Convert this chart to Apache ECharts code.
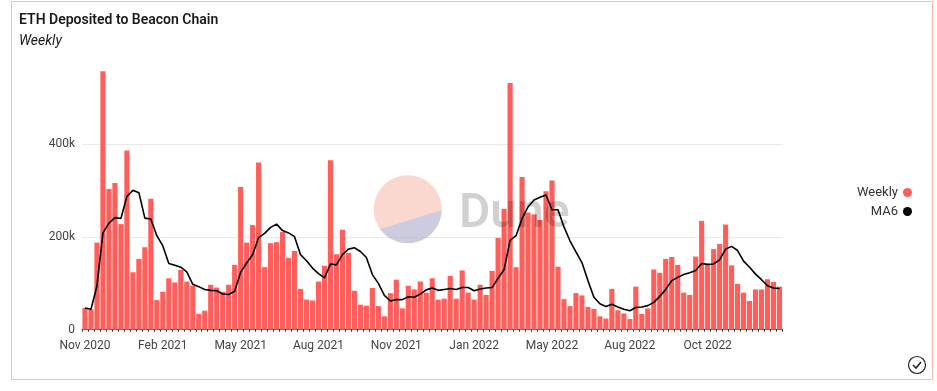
<!DOCTYPE html>
<html>
<head>
<meta charset="utf-8">
<title>ETH Deposited to Beacon Chain</title>
<script src="https://cdn.jsdelivr.net/npm/echarts@6/dist/echarts.min.js"></script>
<style>
  html, body { margin: 0; padding: 0; background: #fff; }
  #wrap { position: relative; width: 937px; height: 391px; }
  #chart { width: 937px; height: 391px; }
  #mark { position: absolute; left: 0; top: 0; pointer-events: none; }
</style>
</head>
<body>
<div id="wrap">
  <div id="chart"></div>
  <!-- watermark sits on top of the bars -->
  <svg id="mark" width="937" height="391">
    <path d="M380 229 A34 34 0 1 1 441.7 210 Z" fill="#f7bdaf" fill-opacity="0.6"/>
    <path d="M380 229 A34 34 0 0 0 441.7 210 Z" fill="#aca8c8" fill-opacity="0.6"/>
    <text x="459" y="227" font-family="Roboto, 'Noto Sans', sans-serif" font-size="48" font-weight="600" fill="#000" fill-opacity="0.18">Dune</text>
  </svg>
</div>
<script>
// weekly deposits (ETH)
const weekly = [
  47000, 44000, 188000, 558000, 304000, 317000, 228000, 387000, 124000, 153000,
  178000, 283000, 64000, 82000, 111000, 102000, 129000, 104000, 95000, 34000,
  41000, 97000, 91000, 82000, 97000, 140000, 308000, 188000, 226000, 361000,
  135000, 187000, 189000, 211000, 155000, 170000, 88000, 65000, 63000, 104000,
  138000, 366000, 163000, 216000, 166000, 84000, 54000, 52000, 90000, 51000,
  29000, 79000, 108000, 46000, 95000, 87000, 104000, 80000, 111000, 65000,
  67000, 116000, 67000, 128000, 80000, 65000, 97000, 75000, 127000, 198000,
  261000, 533000, 135000, 330000, 253000, 249000, 237000, 299000, 322000, 136000,
  66000, 51000, 79000, 74000, 49000, 45000, 29000, 24000, 88000, 42000,
  35000, 23000, 93000, 34000, 46000, 130000, 123000, 153000, 157000, 140000,
  80000, 75000, 158000, 235000, 142000, 174000, 185000, 227000, 139000, 99000,
  80000, 62000, 87000, 87000, 109000, 103000, 93000,
];
const ma6 = [
  47000, 44000, 95000, 209000, 230000, 242000, 240000, 288000, 301000, 296000,
  241000, 239000, 203000, 181000, 143000, 139000, 135000, 125000, 98000, 93000,
  87000, 85000, 84000, 77000, 76000, 83000, 124000, 144000, 162000, 199000,
  208000, 221000, 228000, 214000, 209000, 201000, 162000, 149000, 133000, 121000,
  112000, 142000, 140000, 162000, 174000, 177000, 169000, 156000, 119000, 100000,
  74000, 62000, 65000, 65000, 71000, 70000, 77000, 86000, 90000, 85000,
  87000, 89000, 87000, 91000, 91000, 84000, 88000, 90000, 91000, 111000,
  130000, 193000, 203000, 240000, 265000, 280000, 286000, 291000, 259000, 259000,
  222000, 192000, 168000, 145000, 106000, 70000, 56000, 50000, 55000, 49000,
  44000, 41000, 48000, 49000, 52000, 59000, 72000, 87000, 106000, 113000,
  119000, 123000, 128000, 143000, 141000, 142000, 151000, 174000, 180000, 171000,
  148000, 135000, 120000, 108000, 95000, 90000, 89000,
];
// one label every 13 weeks
const tickLabels = [
  "Nov 2020", "Feb 2021", "May 2021", "Aug 2021", "Nov 2021",
  "Jan 2022", "May 2022", "Aug 2022", "Oct 2022",
];
const categories = weekly.map((_, i) => tickLabels[i / 13] || "");

const FONT = "Roboto, 'Noto Sans', sans-serif";

const chart = echarts.init(document.getElementById("chart"), null, { renderer: "canvas" });

chart.setOption({
  animation: false,
  backgroundColor: "#fff",
  title: {
    text: "ETH Deposited to Beacon Chain",
    subtext: "Weekly",
    left: 19,
    top: 13,
    itemGap: 7,
    padding: 0,
    textStyle: { color: "#1a1a1a", fontSize: 14, fontWeight: 600, fontFamily: FONT },
    subtextStyle: { color: "#1a1a1a", fontSize: 14, fontStyle: "italic", fontFamily: FONT },
  },
  legend: {
    orient: "vertical",
    right: 20,
    top: 181,
    align: "right",
    itemWidth: 9,
    itemHeight: 9,
    itemGap: 6,
    textStyle: { color: "#333", fontSize: 13, fontFamily: FONT },
    data: [
      { name: "Weekly", icon: "circle" },
      { name: "MA6", icon: "circle" },
    ],
  },
  grid: { left: 82, right: 154.5, top: 70.4, bottom: 61.3 },
  xAxis: {
    type: "category",
    data: categories,
    axisLine: { lineStyle: { color: "#333", width: 1 } },
    axisTick: { show: true, interval: 0, length: 2, lineStyle: { color: "#333" } },
    axisLabel: { interval: 12, color: "#444", fontSize: 12, fontFamily: FONT, margin: 10 },
  },
  yAxis: {
    type: "value",
    min: 0,
    max: 560000,
    interval: 200000,
    axisLine: { show: false },
    axisTick: { show: false },
    splitLine: { showMaxLine: false, lineStyle: { color: "#e9e9ec" } },
    axisLabel: {
      showMaxLabel: false,
      color: "#444",
      fontSize: 12,
      fontFamily: FONT,
      margin: 7,
      formatter: (v) => (v === 0 ? "0" : v / 1000 + "k"),
    },
  },
  series: [
    {
      name: "Weekly",
      type: "bar",
      data: weekly,
      barCategoryGap: "14%",
      itemStyle: { color: "#ff5f5a" },
    },
    {
      name: "MA6",
      type: "line",
      data: ma6,
      symbol: "none",
      itemStyle: { color: "#000" },
      lineStyle: { color: "#000", width: 1.6 },
      z: 3,
    },
  ],
  graphic: [
    // card border
    {
      type: "rect",
      silent: true,
      z: -1,
      shape: { x: 11.5, y: 1.5, width: 921, height: 378 },
      style: { fill: "none", stroke: "#fdb9b2", lineWidth: 1 },
    },
    // check mark, bottom right
    {
      type: "circle",
      silent: true,
      shape: { cx: 917, cy: 365, r: 8.5 },
      style: { fill: "none", stroke: "#222", lineWidth: 1.2 },
    },
    {
      type: "polyline",
      silent: true,
      shape: { points: [[913, 365], [916, 368], [921, 362]] },
      style: { fill: "none", stroke: "#222", lineWidth: 1.6 },
    },
  ],
});
</script>
</body>
</html>
